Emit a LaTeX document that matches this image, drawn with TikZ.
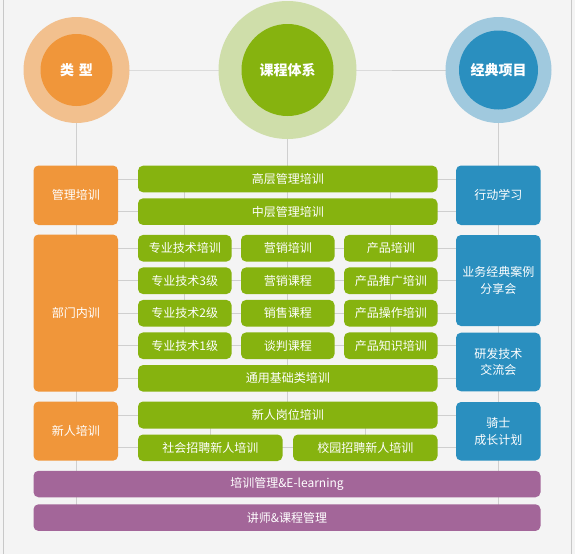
\documentclass[tikz,border=0pt]{standalone}
\usepackage{fontspec}
\setmainfont{Noto Sans CJK SC}
\usetikzlibrary{backgrounds}
\definecolor{bgc}{HTML}{F4F4F4}
\definecolor{linec}{HTML}{CFCFCF}
\definecolor{edgec}{HTML}{C8C8C8}
\definecolor{orangec}{HTML}{F0963A}
\definecolor{orangel}{HTML}{F2C08E}
\definecolor{greenc}{HTML}{86B30F}
\definecolor{greenl}{HTML}{CFDEAA}
\definecolor{bluec}{HTML}{2A8FBF}
\definecolor{bluel}{HTML}{A0C9DE}
\definecolor{purplec}{HTML}{A36699}
\tikzset{
  box/.style={rectangle, rounded corners=5pt, inner sep=0pt, text=white, align=center,
    font=\fontsize{12}{16.5}\selectfont},
  obox/.style={box, fill=orangec},
  gbox/.style={box, fill=greenc},
  bbox/.style={box, fill=bluec},
  pbox/.style={box, fill=purplec},
  ring/.style={circle, inner sep=0pt},
  core/.style={circle, inner sep=0pt, text=white, font=\fontsize{14}{16}\selectfont\bfseries},
  conn/.style={draw=linec, line width=0.9pt},
}
\begin{document}
\begin{tikzpicture}[x=1pt,y=-1pt]
\useasboundingbox (0,0) rectangle (575,554);
% circles
\node[ring, fill=orangel, minimum size=106pt] (lxo) at (76.5,70) {};
\node[ring, fill=greenl, minimum size=138pt] (kco) at (287.5,70) {};
\node[ring, fill=bluel, minimum size=106pt] (jdo) at (498.5,70) {};
\node[core, fill=orangec, minimum size=72pt] (lx) at (76.5,70) {类\,\,型};
\node[core, fill=greenc, minimum size=92pt] (kc) at (287.5,70) {课程体系};
\node[core, fill=bluec, minimum size=79pt] (jd) at (498.5,70) {经典项目};
% left column
\node[obox, minimum width=84.5pt, minimum height=59.5pt] (o1) at (75.75,195.25) {管理培训};
\node[obox, minimum width=84.5pt, minimum height=157.2pt] (o2) at (75.75,313.1) {部门内训};
\node[obox, minimum width=84.5pt, minimum height=59.2pt] (o3) at (75.75,431.1) {新人培训};
% green
\node[gbox, minimum width=299.5pt, minimum height=26.6pt] (g1) at (287.75,179) {高层管理培训};
\node[gbox, minimum width=299.5pt, minimum height=26.6pt] (g2) at (287.75,211.65) {中层管理培训};
\node[gbox, minimum width=93.5pt, minimum height=26.6pt] (a1) at (184.75,248.25) {专业技术培训};
\node[gbox, minimum width=93.5pt, minimum height=26.6pt] (b1) at (287.75,248.25) {营销培训};
\node[gbox, minimum width=93.5pt, minimum height=26.6pt] (c1) at (390.75,248.25) {产品培训};
\node[gbox, minimum width=93.5pt, minimum height=26.6pt] (a2) at (184.75,280.75) {专业技术3级};
\node[gbox, minimum width=93.5pt, minimum height=26.6pt] (b2) at (287.75,280.75) {营销课程};
\node[gbox, minimum width=93.5pt, minimum height=26.6pt] (c2) at (390.75,280.75) {产品推广培训};
\node[gbox, minimum width=93.5pt, minimum height=26.6pt] (a3) at (184.75,313.25) {专业技术2级};
\node[gbox, minimum width=93.5pt, minimum height=26.6pt] (b3) at (287.75,313.25) {销售课程};
\node[gbox, minimum width=93.5pt, minimum height=26.6pt] (c3) at (390.75,313.25) {产品操作培训};
\node[gbox, minimum width=93.5pt, minimum height=26.6pt] (a4) at (184.75,345.75) {专业技术1级};
\node[gbox, minimum width=93.5pt, minimum height=26.6pt] (b4) at (287.75,345.75) {谈判课程};
\node[gbox, minimum width=93.5pt, minimum height=26.6pt] (c4) at (390.75,345.75) {产品知识培训};
\node[gbox, minimum width=299.5pt, minimum height=26.6pt] (g7) at (287.75,378.35) {通用基础类培训};
\node[gbox, minimum width=299.5pt, minimum height=27pt] (g8) at (287.75,415) {新人岗位培训};
\node[gbox, minimum width=144.5pt, minimum height=26.5pt] (s1) at (210.25,447.75) {社会招聘新人培训};
\node[gbox, minimum width=144.5pt, minimum height=26.5pt] (s2) at (365.25,447.75) {校园招聘新人培训};
% blue
\node[bbox, minimum width=84.5pt, minimum height=59.5pt] (x1) at (498.25,195.25) {行动学习};
\node[bbox, minimum width=84.5pt, minimum height=91pt] (x2) at (498.25,280.5) {业务经典案例\\分享会};
\node[bbox, minimum width=84.5pt, minimum height=58.6pt] (x3) at (498.25,362) {研发技术\\交流会};
\node[bbox, minimum width=84.5pt, minimum height=58.5pt] (x4) at (498.25,431.25) {骑士\\成长计划};
% purple
\node[pbox, minimum width=507pt, minimum height=26.5pt] (p1) at (287,484) {培训管理\&E-learning};
\node[pbox, minimum width=507pt, minimum height=26.7pt] (p2) at (287,517.6) {讲师\&课程管理};
\begin{pgfonlayer}{background}
\fill[bgc] (0,0) rectangle (575,554);
\draw[edgec, line width=0.9pt] (3.5,0) -- (3.5,554);
\draw[edgec, line width=0.9pt] (571.5,0) -- (571.5,554);
\draw[conn] (lx.center) -- (kc.center) -- (jd.center);
\draw[conn] (lx.center) -- (lx |- p2.center);
\draw[conn] (jd.center) -- (jd |- p2.center);
\draw[conn] (kc.center) -- (kc |- g8.center);
\draw[conn] (a1.center) -- (a4.center);
\draw[conn] (c1.center) -- (c4.center);
\draw[conn] (a1 |- g1.center) -- (a1.center);
\draw[conn] (c1 |- g1.center) -- (c1.center);
\draw[conn] (s1 |- g8.center) -- (s1.center);
\draw[conn] (s2 |- g8.center) -- (s2.center);
\foreach \r in {g1,g2,a1,a2,a3,a4,g7,g8,s1}{
  \draw[conn] (lx |- \r.center) -- (jd |- \r.center);
}
\end{pgfonlayer}
\end{tikzpicture}
\end{document}
